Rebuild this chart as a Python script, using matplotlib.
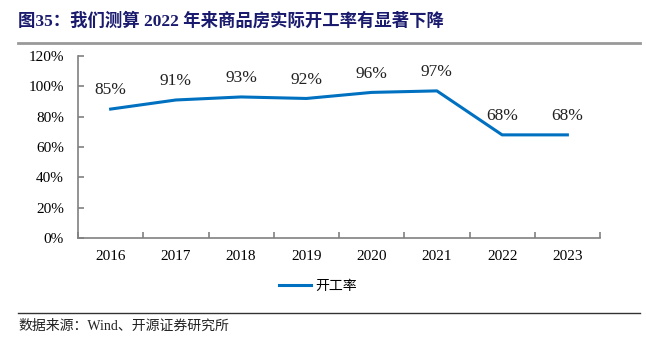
import matplotlib.pyplot as plt
from matplotlib.lines import Line2D

years = ["2016", "2017", "2018", "2019", "2020", "2021", "2022", "2023"]
rate = [85, 91, 93, 92, 96, 97, 68, 68]
yticks = [0, 20, 40, 60, 80, 100, 120]

serif = ["Liberation Serif", "Noto Sans CJK SC"]
cjk = ["Noto Sans CJK SC", "DejaVu Sans"]

fig = plt.figure(figsize=(6.46, 3.49), dpi=100)
ax = fig.add_axes([78 / 646, 1 - 238 / 349, (600 - 78) / 646, (238 - 56) / 349])

x = list(range(len(years)))
ax.plot(x, rate, color="#0070C0", lw=2.2)
for xi, v in zip(x, rate):
    ax.text(xi, v + 7, f"{v}%", ha="center", va="bottom", fontsize=12.5, family=serif, color="#222222")

ax.set_xlim(-0.5, 7.5)
ax.set_ylim(0, 120)
ax.set_yticks(yticks)
ax.set_yticklabels([f"{t}%" for t in yticks], family=serif, fontsize=11)
ax.set_xticks(x)
ax.set_xticklabels(years, family=serif, fontsize=11)
ax.set_xticks([i + 0.5 for i in range(-1, 8)], minor=True)
ax.tick_params(axis="x", which="major", length=0, pad=9)
ax.tick_params(axis="x", which="minor", length=4, direction="in", color="#808080", width=1.2)
ax.tick_params(axis="y", length=4, direction="in", color="#808080", width=1.2, pad=10)
for s in ["top", "right"]:
    ax.spines[s].set_visible(False)
for s in ["left", "bottom"]:
    ax.spines[s].set_color("#808080")
    ax.spines[s].set_linewidth(1.2)

# legend
fig.legend(handles=[Line2D([0], [0], color="#0070C0", lw=2.2)], labels=["开工率"],
           loc="center", bbox_to_anchor=(318 / 646, 1 - 286 / 349), frameon=False,
           prop={"family": cjk, "size": 10}, handlelength=2.3, handletextpad=0.3)

# title and rules
fig.text(18 / 646, 1 - 21 / 349, "图35：我们测算 2022 年来商品房实际开工率有显著下降",
         family=serif, fontsize=12.5, fontweight="bold", color="#1A1A6E", va="center")
fig.add_artist(Line2D([18 / 646, 640 / 646], [1 - 43 / 349] * 2, color="#999999", lw=2))
fig.add_artist(Line2D([18 / 646, 640 / 646], [1 - 313 / 349] * 2, color="#333333", lw=1))
fig.text(18 / 646, 1 - 326 / 349, "数据来源：Wind、开源证券研究所",
         family=serif, fontsize=10, color="#222222", va="center")

fig.savefig("out.png", dpi=100)
